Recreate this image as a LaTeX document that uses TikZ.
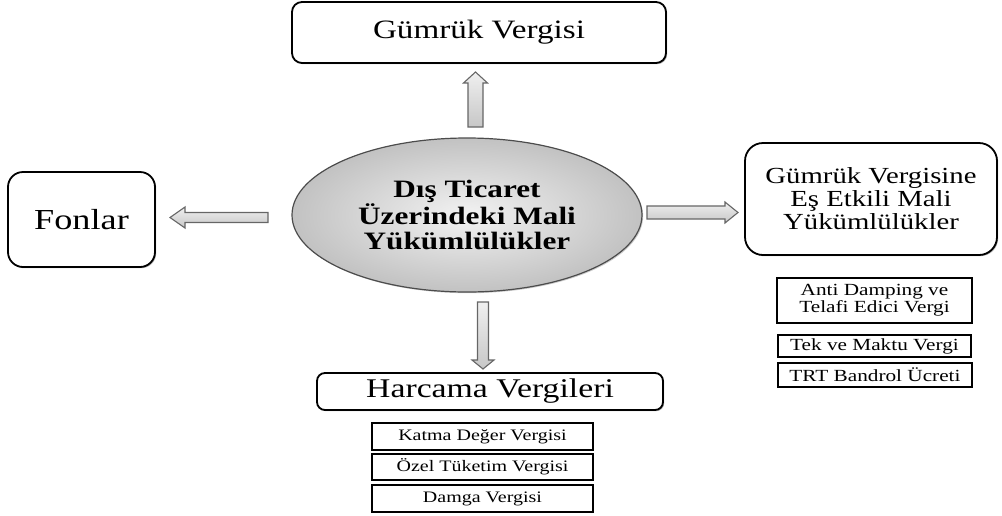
\documentclass[tikz,border=0pt]{standalone}
\usepackage{fontspec}
\setmainfont{Liberation Serif}[FakeStretch=1.25]
\usetikzlibrary{shapes.geometric,shadows}

\newcommand\fs[1]{\fontsize{#1}{#1}\selectfont}

% block arrow centred at (#1), pointing at angle #2, length #3,
% shaft width #4, head width #5, head length #6
\newcommand\blockarrow[6]{%
  \begin{scope}[shift={(#1)}, rotate=#2]
    \pgfmathsetmacro\bL{#3/2}\pgfmathsetmacro\bS{#4/2}%
    \pgfmathsetmacro\bH{#5/2}\pgfmathsetmacro\bB{#3/2-#6}%
    \draw[arrowfill] (-\bL,-\bS) -- (\bB,-\bS) -- (\bB,-\bH) -- (\bL,0)
      -- (\bB,\bH) -- (\bB,\bS) -- (-\bL,\bS) -- cycle;
  \end{scope}}

\tikzset{
  roundbox/.style={draw=black, line width=1.8pt, rounded corners=#1, fill=white,
    align=center, inner sep=0pt,
    drop shadow={shadow xshift=1.2pt, shadow yshift=-1.2pt, fill=black!60, opacity=.5}},
  itembox/.style={draw=black, line width=2.4pt, fill=white, align=center, inner sep=0pt},
  arrowfill/.style={draw=black!60, line width=1.1pt, line join=miter,
    left color=black!6, right color=black!22, shading angle=0},
  hub/.style={ellipse, draw=black!70, line width=1.2pt, inner sep=0pt,
    inner color=black!5, outer color=black!24, align=center,
    drop shadow={shadow xshift=1.2pt, shadow yshift=-1.2pt, fill=black!50, opacity=.4}}
}

\begin{document}
\begin{tikzpicture}[x=1pt, y=-1pt]
  \useasboundingbox (0,0) rectangle (1002,515);

  % central ellipse
  \node[hub, minimum width=350pt, minimum height=154pt,
        font=\fs{25}\bfseries, text depth=0pt] (hub) at (467,215)
        {\baselineskip=28pt D\i{}ş Ticaret\\Üzerindeki Mali\\Yükümlülükler};

  % four main categories
  \node[roundbox=10pt, minimum width=374pt, minimum height=61pt, font=\fs{26.5}]
        (gumruk) at (479,32.5) {Gümrük Vergisi};
  \node[roundbox=15pt, minimum width=147pt, minimum height=95pt, font=\fs{29}]
        (fonlar) at (81.5,219.5) {Fonlar};
  \node[roundbox=18pt, minimum width=252pt, minimum height=112pt, font=\fs{23}]
        (esetkili) at (871,199) {\baselineskip=25pt Gümrük Vergisine\\Eş Etkili Mali\\Yükümlülükler};
  \node[roundbox=8pt, minimum width=346pt, minimum height=37pt, font=\fs{27}]
        (harcama) at (490,391.5) {Harcama Vergileri};

  % block arrows from the centre outwards
  \blockarrow{475.5,99.5}{90}{55}{15}{24}{11}
  \blockarrow{483,335.5}{-90}{67}{11}{22}{9}
  \blockarrow{219,217.5}{180}{98}{10}{21}{15}
  \blockarrow{692.5,212.5}{0}{91}{13}{21}{13}

  % items under the equivalent-effect charges
  \node[itembox, minimum width=195pt, minimum height=45pt, font=\fs{17}]
        (anti) at (874.5,300.5) {\baselineskip=17pt Anti Damping ve\\Telafi Edici Vergi};
  \node[itembox, minimum width=193pt, minimum height=22pt, font=\fs{17}]
        (maktu) at (874.5,346) {Tek ve Maktu Vergi};
  \node[itembox, minimum width=194pt, minimum height=24pt, font=\fs{17}]
        (trt) at (875,375) {TRT Bandrol Ücreti};

  % items under the spending taxes
  \node[itembox, minimum width=221pt, minimum height=27pt, font=\fs{16}]
        (kdv) at (482.5,436.5) {Katma Değer Vergisi};
  \node[itembox, minimum width=221pt, minimum height=26pt, font=\fs{16}]
        (otv) at (482.5,467) {Özel Tüketim Vergisi};
  \node[itembox, minimum width=221pt, minimum height=27pt, font=\fs{16}]
        (damga) at (482.5,498.5) {Damga Vergisi};
\end{tikzpicture}
\end{document}
